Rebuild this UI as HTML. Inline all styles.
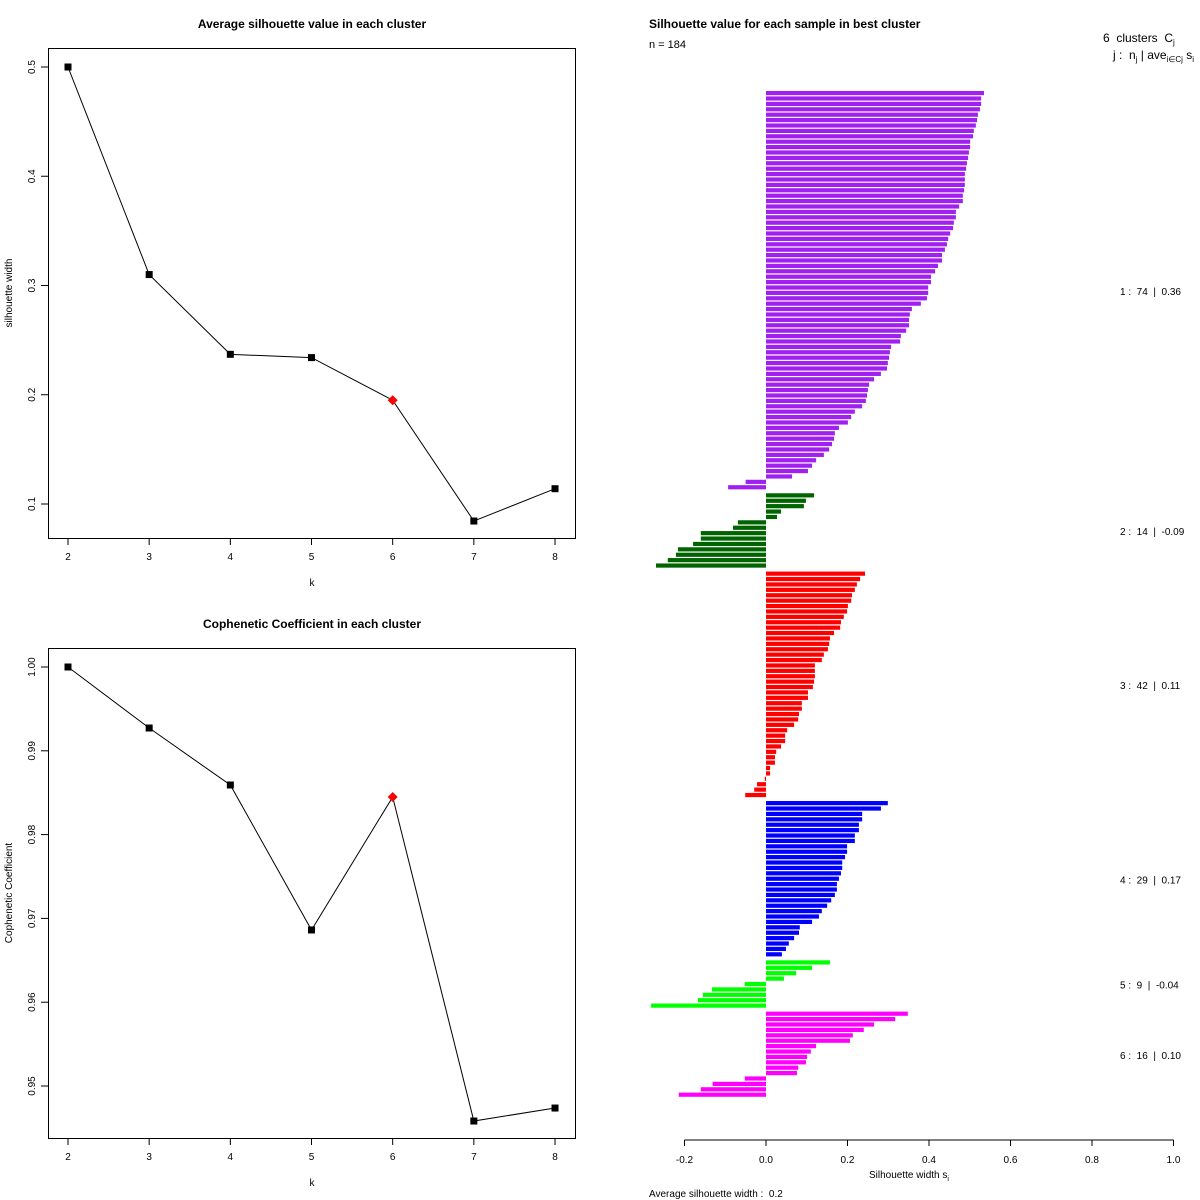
<!DOCTYPE html>
<html><head><meta charset="utf-8">
<style>
html,body{margin:0;padding:0;background:#fff;}
svg{display:block;font-family:"Liberation Sans",sans-serif;}
text{white-space:pre;}
</style></head>
<body>
<svg id="svg" width="1200" height="1200" viewBox="0 0 1200 1200"></svg>
<script>
// ---- Data ----
const kValues = [2,3,4,5,6,7,8];
const avgSil = [0.500,0.310,0.237,0.234,0.195,0.0844,0.114];
const silTicks = [0.1,0.2,0.3,0.4,0.5];
const coph = [1.000,0.99272,0.98592,0.96862,0.98449,0.94582,0.94737];
const cophTicks = [0.95,0.96,0.97,0.98,0.99,1.00];
const bestK = 6;
const clusterColors = ["#a020f0","#006400","#ff0000","#0000ff","#00ff00","#ff00ff"];
const clusterLabels = ["1 :  74  |  0.36","2 :  14  |  -0.09","3 :  42  |  0.11","4 :  29  |  0.17","5 :  9  |  -0.04","6 :  16  |  0.10"];
const sil1 = [0.535,0.528,0.528,0.525,0.520,0.518,0.515,0.510,0.508,0.501,0.501,0.498,0.496,0.493,0.491,0.488,0.488,0.488,0.486,0.483,0.483,0.474,0.466,0.466,0.461,0.459,0.452,0.447,0.444,0.439,0.432,0.432,0.422,0.415,0.405,0.405,0.398,0.398,0.395,0.380,0.358,0.353,0.351,0.351,0.344,0.331,0.329,0.307,0.304,0.302,0.299,0.297,0.282,0.265,0.253,0.250,0.248,0.245,0.236,0.218,0.209,0.201,0.179,0.169,0.167,0.162,0.155,0.142,0.123,0.113,0.103,0.064,-0.050,-0.093];
const sil2 = [0.118,0.098,0.093,0.037,0.027,-0.069,-0.081,-0.160,-0.160,-0.179,-0.216,-0.221,-0.241,-0.270];
const sil3 = [0.243,0.231,0.223,0.218,0.211,0.209,0.201,0.199,0.191,0.184,0.182,0.167,0.157,0.155,0.152,0.142,0.137,0.120,0.120,0.120,0.118,0.115,0.103,0.103,0.088,0.088,0.081,0.079,0.069,0.052,0.047,0.047,0.037,0.025,0.022,0.022,0.010,0.010,-0.003,-0.022,-0.029,-0.051];
const sil4 = [0.299,0.282,0.236,0.236,0.228,0.228,0.218,0.218,0.199,0.199,0.194,0.187,0.187,0.184,0.179,0.174,0.174,0.169,0.160,0.150,0.137,0.130,0.113,0.083,0.081,0.069,0.056,0.049,0.039];
const sil5 = [0.157,0.113,0.074,0.044,-0.052,-0.133,-0.155,-0.167,-0.282];
const sil6 = [0.348,0.317,0.265,0.240,0.213,0.206,0.123,0.110,0.101,0.098,0.079,0.076,-0.052,-0.131,-0.160,-0.214];
const silXTicks = [-0.2,0,0.2,0.4,0.6,0.8,1.0];
const silXTickLabels = ["-0.2","0.0","0.2","0.4","0.6","0.8","1.0"];

const NS="http://www.w3.org/2000/svg";
const svg=document.getElementById('svg');
function mk(tag,attrs,parent){const e=document.createElementNS(NS,tag);for(const k in attrs)e.setAttribute(k,attrs[k]);(parent||svg).appendChild(e);return e;}
function txt(s,x,y,attrs,parent){const t=mk('text',Object.assign({x:x,y:y,'font-size':11,fill:'#000'},attrs||{}),parent);t.textContent=s;return t;}

// ---- Line plots ----
function linePlot(top,title,ylab,vals,ticks,tickFmt,yTopVal,yTopPx,pxPerUnit,name){
  const g=mk('g',{});
  
  
  const xS=k=>68+(k-2)*81.17;
  const yS=v=>yTopPx+(yTopVal-v)*pxPerUnit;
  const box=mk('rect',{x:48.5,y:top+0.5,width:527,height:490,fill:'none',stroke:'#000','stroke-width':1},g);
  
  const t=txt(title,312,top-20,{'text-anchor':'middle','font-weight':'bold','font-size':12},g);
  
  kValues.forEach(k=>{
    mk('line',{x1:xS(k),x2:xS(k),y1:top+490,y2:top+497,stroke:'#000'},g);
    const l=txt(String(k),xS(k),top+512,{'text-anchor':'middle','font-size':10},g);
    
  });
  const xt=txt('k',312,top+538,{'text-anchor':'middle','font-size':10},g);
  
  ticks.forEach(v=>{
    const y=yS(v);
    mk('line',{x1:41,x2:48,y1:y,y2:y,stroke:'#000'},g);
    const l=txt(tickFmt(v),35,y,{'text-anchor':'middle','font-size':10,transform:`rotate(-90 35 ${y})`},g);
    
  });
  const yt=txt(ylab,12,top+245,{'text-anchor':'middle','font-size':10,transform:`rotate(-90 12 ${top+245})`},g);
  
  const pts=kValues.map((k,i)=>xS(k)+','+yS(vals[i])).join(' ');
  const pl=mk('polyline',{points:pts,fill:'none',stroke:'#000','stroke-width':1},g);
  
  kValues.forEach((k,i)=>{
    const x=xS(k),y=yS(vals[i]);
    let m;
    if(k===bestK){m=mk('polygon',{points:`${x},${y-5} ${x+5},${y} ${x},${y+5} ${x-5},${y}`,fill:'#ff0000'},g);}
    else{m=mk('rect',{x:x-3.5,y:y-3.5,width:7,height:7,fill:'#000'},g);}
    
  });
}
linePlot(48,'Average silhouette value in each cluster','silhouette width',avgSil,silTicks,v=>v.toFixed(1),0.5,67,1092.5,'avg-silhouette-plot');
linePlot(648,'Cophenetic Coefficient in each cluster','Cophenetic Coefficient',coph,cophTicks,v=>v.toFixed(2),1.0,667,8380,'cophenetic-plot');

// ---- Silhouette bar plot ----
const sg=mk('g',{});


const sx=v=>766+v*407.5;
const tt=txt('Silhouette value for each sample in best cluster',649,28,{'font-weight':'bold','font-size':12},sg);

const nn=txt('n = 184',649,48,{'font-size':11},sg);

const lh1=txt('6  clusters  C',1103,42,{'font-size':12},sg);
mk('tspan',{'font-size':8,dy:3},lh1).textContent='j';

const lh2=txt('j :  n',1113,59,{'font-size':12},sg);
mk('tspan',{'font-size':8,dy:3},lh2).textContent='j';
mk('tspan',{dy:-3},lh2).textContent=' | ave';
mk('tspan',{'font-size':8,dy:3},lh2).textContent='i∈Cj';
mk('tspan',{dy:-3},lh2).textContent=' s';
mk('tspan',{'font-size':8,dy:3},lh2).textContent='i';


const clusters=[sil1,sil2,sil3,sil4,sil5,sil6];
const u=1007/186.5, y0=91;
let idx=0;
clusters.forEach((arr,c)=>{
  const startRow=idx+0.5*c;
  arr.forEach((v,j)=>{
    const y=y0+(idx+0.5*c)*u;
    const x1=Math.min(sx(0),sx(v)), w=Math.abs(sx(v)-sx(0));
    const r=mk('rect',{x:x1,y:y,width:Math.max(w,0.6),height:u-1.2,fill:clusterColors[c]},sg);
    
    
    idx++;
  });
  const mid=y0+(startRow+arr.length/2)*u;
  const lab=txt(clusterLabels[c],1120,mid+4,{'font-size':10},sg);
  
  
});
mk('line',{x1:sx(-0.2),x2:sx(1.0),y1:1140,y2:1140,stroke:'#000'},sg);
silXTicks.forEach((v,i)=>{
  mk('line',{x1:sx(v),x2:sx(v),y1:1140,y2:1146,stroke:'#000'},sg);
  const l=txt(silXTickLabels[i],sx(v),1163,{'text-anchor':'middle','font-size':10},sg);
  
});
const xa=txt('Silhouette width s',869,1178,{'font-size':10},sg);
mk('tspan',{'font-size':7,dy:3},xa).textContent='i';

const av=txt('Average silhouette width :  0.2',649,1197,{'font-size':10},sg);

</script>
</body></html>
